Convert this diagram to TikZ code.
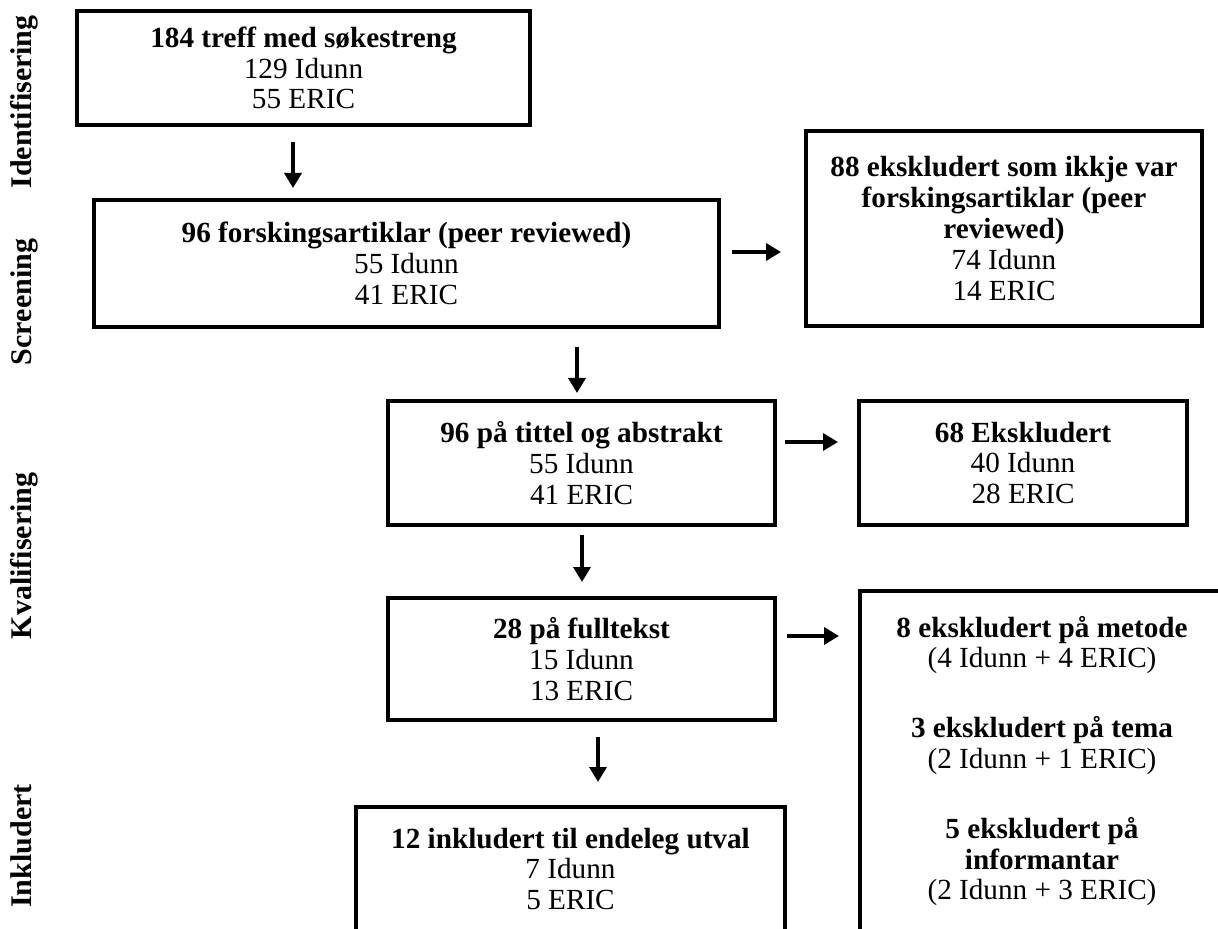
\documentclass[tikz,border=0pt]{standalone}
\usepackage{fontspec}
\setmainfont{Liberation Serif}
\usepackage{tikz}
\usetikzlibrary{arrows.meta}

\begin{document}
\begin{tikzpicture}[x=0.5pt, y=-0.5pt,
    boks/.style={draw, line width=2pt, align=center, inner sep=0pt,
                 font=\fontsize{14.6}{15.4}\selectfont,
                 execute at begin node={\rule{0pt}{14pt}}},
    pil/.style={-{Triangle[length=7.5pt, width=8.5pt]}, line width=1.75pt},
    fase/.style={rotate=90, anchor=base, font=\fontsize{15}{16}\selectfont\bfseries}]
    \useasboundingbox (0,0) rectangle (1218,929);
    \clip (0,0) rectangle (1218,929);

    % fasar
    \node[fase] (identifisering) at (32,102) {Identifisering};
    \node[fase] (screening) at (32,302) {Screening};
    \node[fase] (kvalifisering) at (32,556) {Kvalifisering};
    \node[fase] (inkludert) at (32,846) {Inkludert};

    % boksar
    \node[boks, minimum width=226.5pt, minimum height=57pt] (treff) at (303.5,68)
        {\textbf{184 treff med søkestreng}\\129 Idunn\\55 ERIC};
    \node[boks, minimum width=312.5pt, minimum height=63.5pt] (forsking) at (406.5,263.5)
        {\textbf{96 forskingsartiklar (peer reviewed)}\\55 Idunn\\41 ERIC};
    \node[boks, minimum width=198pt, minimum height=97.5pt] (ikkjeforsking) at (1004,228.5)
        {\textbf{88 ekskludert som ikkje var}\\\textbf{forskingsartiklar (peer}\\\textbf{reviewed)}\\74 Idunn\\14 ERIC};
    \node[boks, minimum width=193.5pt, minimum height=62pt] (tittel) at (581.5,463)
        {\textbf{96 på tittel og abstrakt}\\55 Idunn\\41 ERIC};
    \node[boks, minimum width=164pt, minimum height=62pt] (eksktittel) at (1023,463)
        {\textbf{68 Ekskludert}\\40 Idunn\\28 ERIC};
    \node[boks, minimum width=193.5pt, minimum height=61pt] (fulltekst) at (581.5,659)
        {\textbf{28 på fulltekst}\\15 Idunn\\13 ERIC};
    \node[boks, minimum width=182pt, minimum height=170pt] (ekskfull) at (1042,761)
        {\textbf{8 ekskludert på metode}\\(4 Idunn + 4 ERIC)\\[19.5pt]
         \textbf{3 ekskludert på tema}\\(2 Idunn + 1 ERIC)\\[19.5pt]
         \textbf{5 ekskludert på}\\\textbf{informantar}\\(2 Idunn + 3 ERIC)};
    \node[boks, minimum width=214.5pt, minimum height=62pt] (utval) at (570.5,869)
        {\textbf{12 inkludert til endeleg utval}\\7 Idunn\\5 ERIC};

    % pilar
    \coordinate (p1a) at (293,142);  \coordinate (p1b) at (293,188);
    \coordinate (p2a) at (732,252);  \coordinate (p2b) at (781,252);
    \coordinate (p3a) at (577,347);  \coordinate (p3b) at (577,393);
    \coordinate (p4a) at (785,442);  \coordinate (p4b) at (838,442);
    \coordinate (p5a) at (582,535);  \coordinate (p5b) at (582,582);
    \coordinate (p6a) at (787,636);  \coordinate (p6b) at (839,636);
    \coordinate (p7a) at (598,737);  \coordinate (p7b) at (598,782);
    \draw[pil] (p1a) -- (p1b);
    \draw[pil] (p2a) -- (p2b);
    \draw[pil] (p3a) -- (p3b);
    \draw[pil] (p4a) -- (p4b);
    \draw[pil] (p5a) -- (p5b);
    \draw[pil] (p6a) -- (p6b);
    \draw[pil] (p7a) -- (p7b);
\end{tikzpicture}
\end{document}
